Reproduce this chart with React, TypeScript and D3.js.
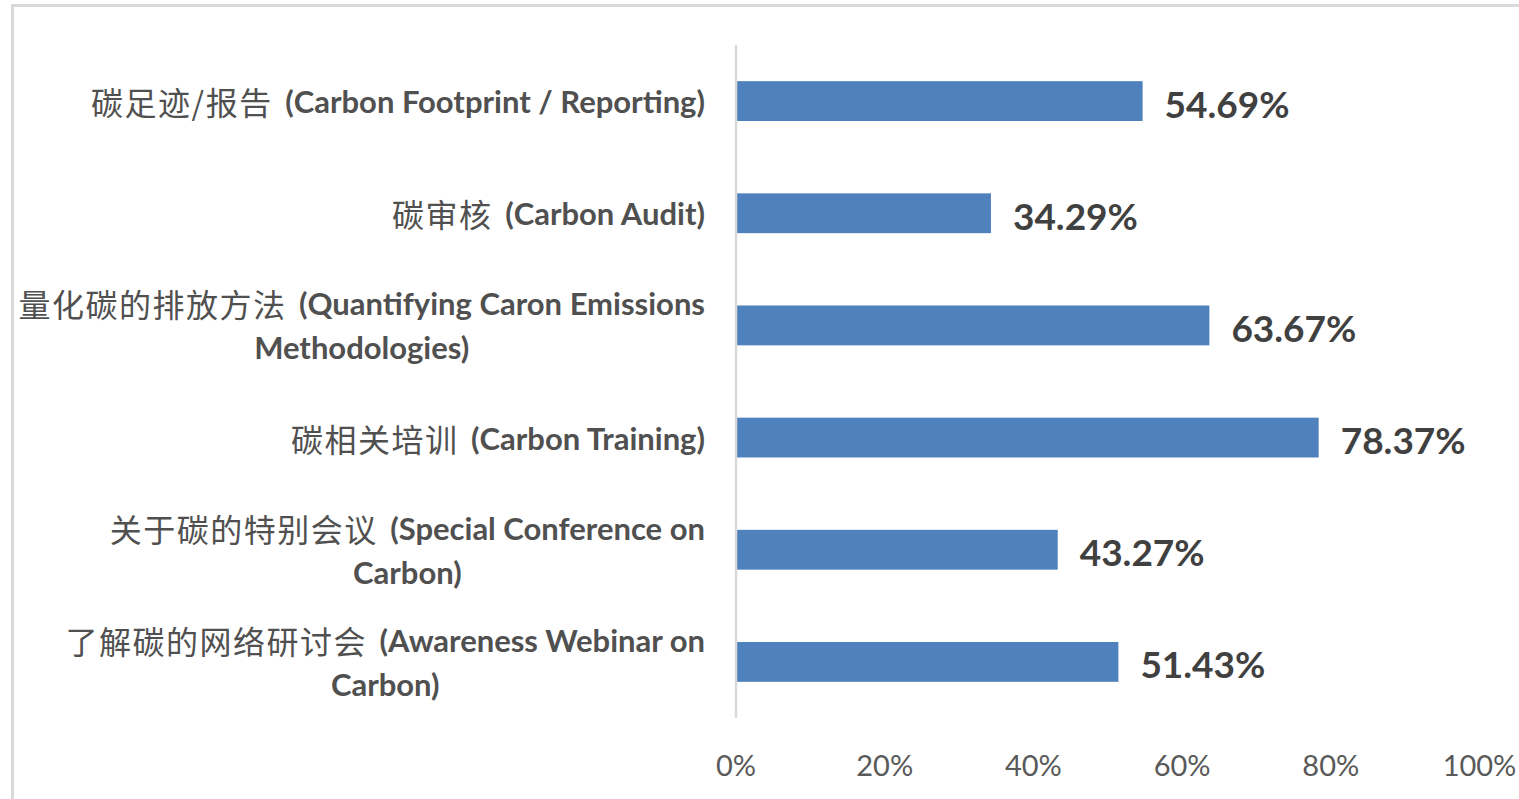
import { useRef, useEffect } from 'react'
import * as d3 from 'd3'

// category labels, each one split into the lines it shows on
const categories: string[][] = [
  ['碳足迹/报告 (Carbon Footprint / Reporting)'],
  ['碳审核 (Carbon Audit)'],
  ['量化碳的排放方法 (Quantifying Caron Emissions', 'Methodologies)'],
  ['碳相关培训 (Carbon Training)'],
  ['关于碳的特别会议 (Special Conference on', 'Carbon)'],
  ['了解碳的网络研讨会 (Awareness Webinar on', 'Carbon)'],
]
const values = [54.69, 34.29, 63.67, 78.37, 43.27, 51.43]
const ticks = [0, 20, 40, 60, 80, 100]

const CJK = "'Noto Sans CJK SC', sans-serif"
const LATIN = "Lato, 'Noto Sans', sans-serif"

function renderChart(container: SVGSVGElement | null) {
  if (container === null) return

  const width = 1519
  const height = 799
  const labelRight = 705

  const svg = d3.select(container)
  svg.selectAll('*').remove()
  svg.attr('width', width).attr('height', height)

  svg.append('rect').attr('width', width).attr('height', height).attr('fill', '#fff')

  // chart frame (left + top edges visible)
  svg.append('path')
    .attr('d', `M12.5,${height} V5.5 H${width}`)
    .attr('fill', 'none')
    .attr('stroke', '#d9d9d9')
    .attr('stroke-width', 3)

  const x = d3.scaleLinear().domain([0, 100]).range([736, 1479.5])
  const y = d3.scaleBand<number>()
    .domain(d3.range(values.length))
    .range([45, 718])
    .paddingInner(0.645)
    .paddingOuter(0.3225)

  svg.selectAll('rect.bar')
    .data(values)
    .enter().append('rect')
    .attr('class', 'bar')
    .attr('x', x(0))
    .attr('y', (d, i) => y(i)!)
    .attr('width', d => x(d) - x(0))
    .attr('height', y.bandwidth())
    .attr('fill', '#4f81bd')

  // vertical axis line
  svg.append('line')
    .attr('x1', x(0)).attr('x2', x(0))
    .attr('y1', 45).attr('y2', 718)
    .attr('stroke', '#d9d9d9')
    .attr('stroke-width', 2.5)

  // value labels
  svg.selectAll('text.value')
    .data(values)
    .enter().append('text')
    .attr('class', 'value')
    .attr('x', d => x(d) + 22)
    .attr('y', (d, i) => y(i)! + y.bandwidth() / 2 + 2)
    .attr('dominant-baseline', 'central')
    .attr('font-family', LATIN)
    .attr('font-weight', 'bold')
    .attr('font-size', 37)
    .attr('fill', '#404040')
    .text(d => d.toFixed(2) + '%')

  // x tick labels
  svg.selectAll('text.tick')
    .data(ticks)
    .enter().append('text')
    .attr('class', 'tick')
    .attr('x', d => x(d))
    .attr('y', 764)
    .attr('text-anchor', 'middle')
    .attr('dominant-baseline', 'central')
    .attr('font-family', LATIN)
    .attr('font-size', 29)
    .attr('fill', '#595959')
    .text(d => d + '%')

  // category labels: block right-aligned, lines centred inside it
  categories.forEach((lines, i) => {
    const cy = y(i)! + y.bandwidth() / 2
    const g = svg.append('g')
    const texts = lines.map((line, j) => {
      const t = g.append('text')
        .attr('y', cy + (j - (lines.length - 1) / 2) * 44)
        .attr('dominant-baseline', 'central')
        .attr('text-anchor', 'middle')
        .attr('fill', '#505050')
      line.split(/([\u4e00-\u9fff][\u4e00-\u9fff/]*[\u4e00-\u9fff])/).filter(s => s.length).forEach((part, k) => {
        const cjk = /[\u4e00-\u9fff]/.test(part)
        t.append('tspan')
          .attr('dx', !cjk && k > 0 ? 5 : 0)
          .attr('font-family', cjk ? CJK : LATIN)
          .attr('font-weight', cjk ? 'normal' : 'bold')
          .attr('font-size', cjk ? 32 : 31)
          .attr('letter-spacing', cjk ? 1.5 : 0)
          .text(part)
      })
      return t
    })
    const widest = d3.max(texts, t => (t.node() as SVGTextElement).getBBox().width) || 0
    texts.forEach(t => t.attr('x', labelRight - widest / 2))
  })
}

export default function App() {
  const chartRef = useRef<SVGSVGElement>(null)
  useEffect(() => {
    renderChart(chartRef.current)
  })
  return (
    <svg ref={chartRef} style={{ position: 'absolute', left: 0, top: 0 }} />
  )
}
